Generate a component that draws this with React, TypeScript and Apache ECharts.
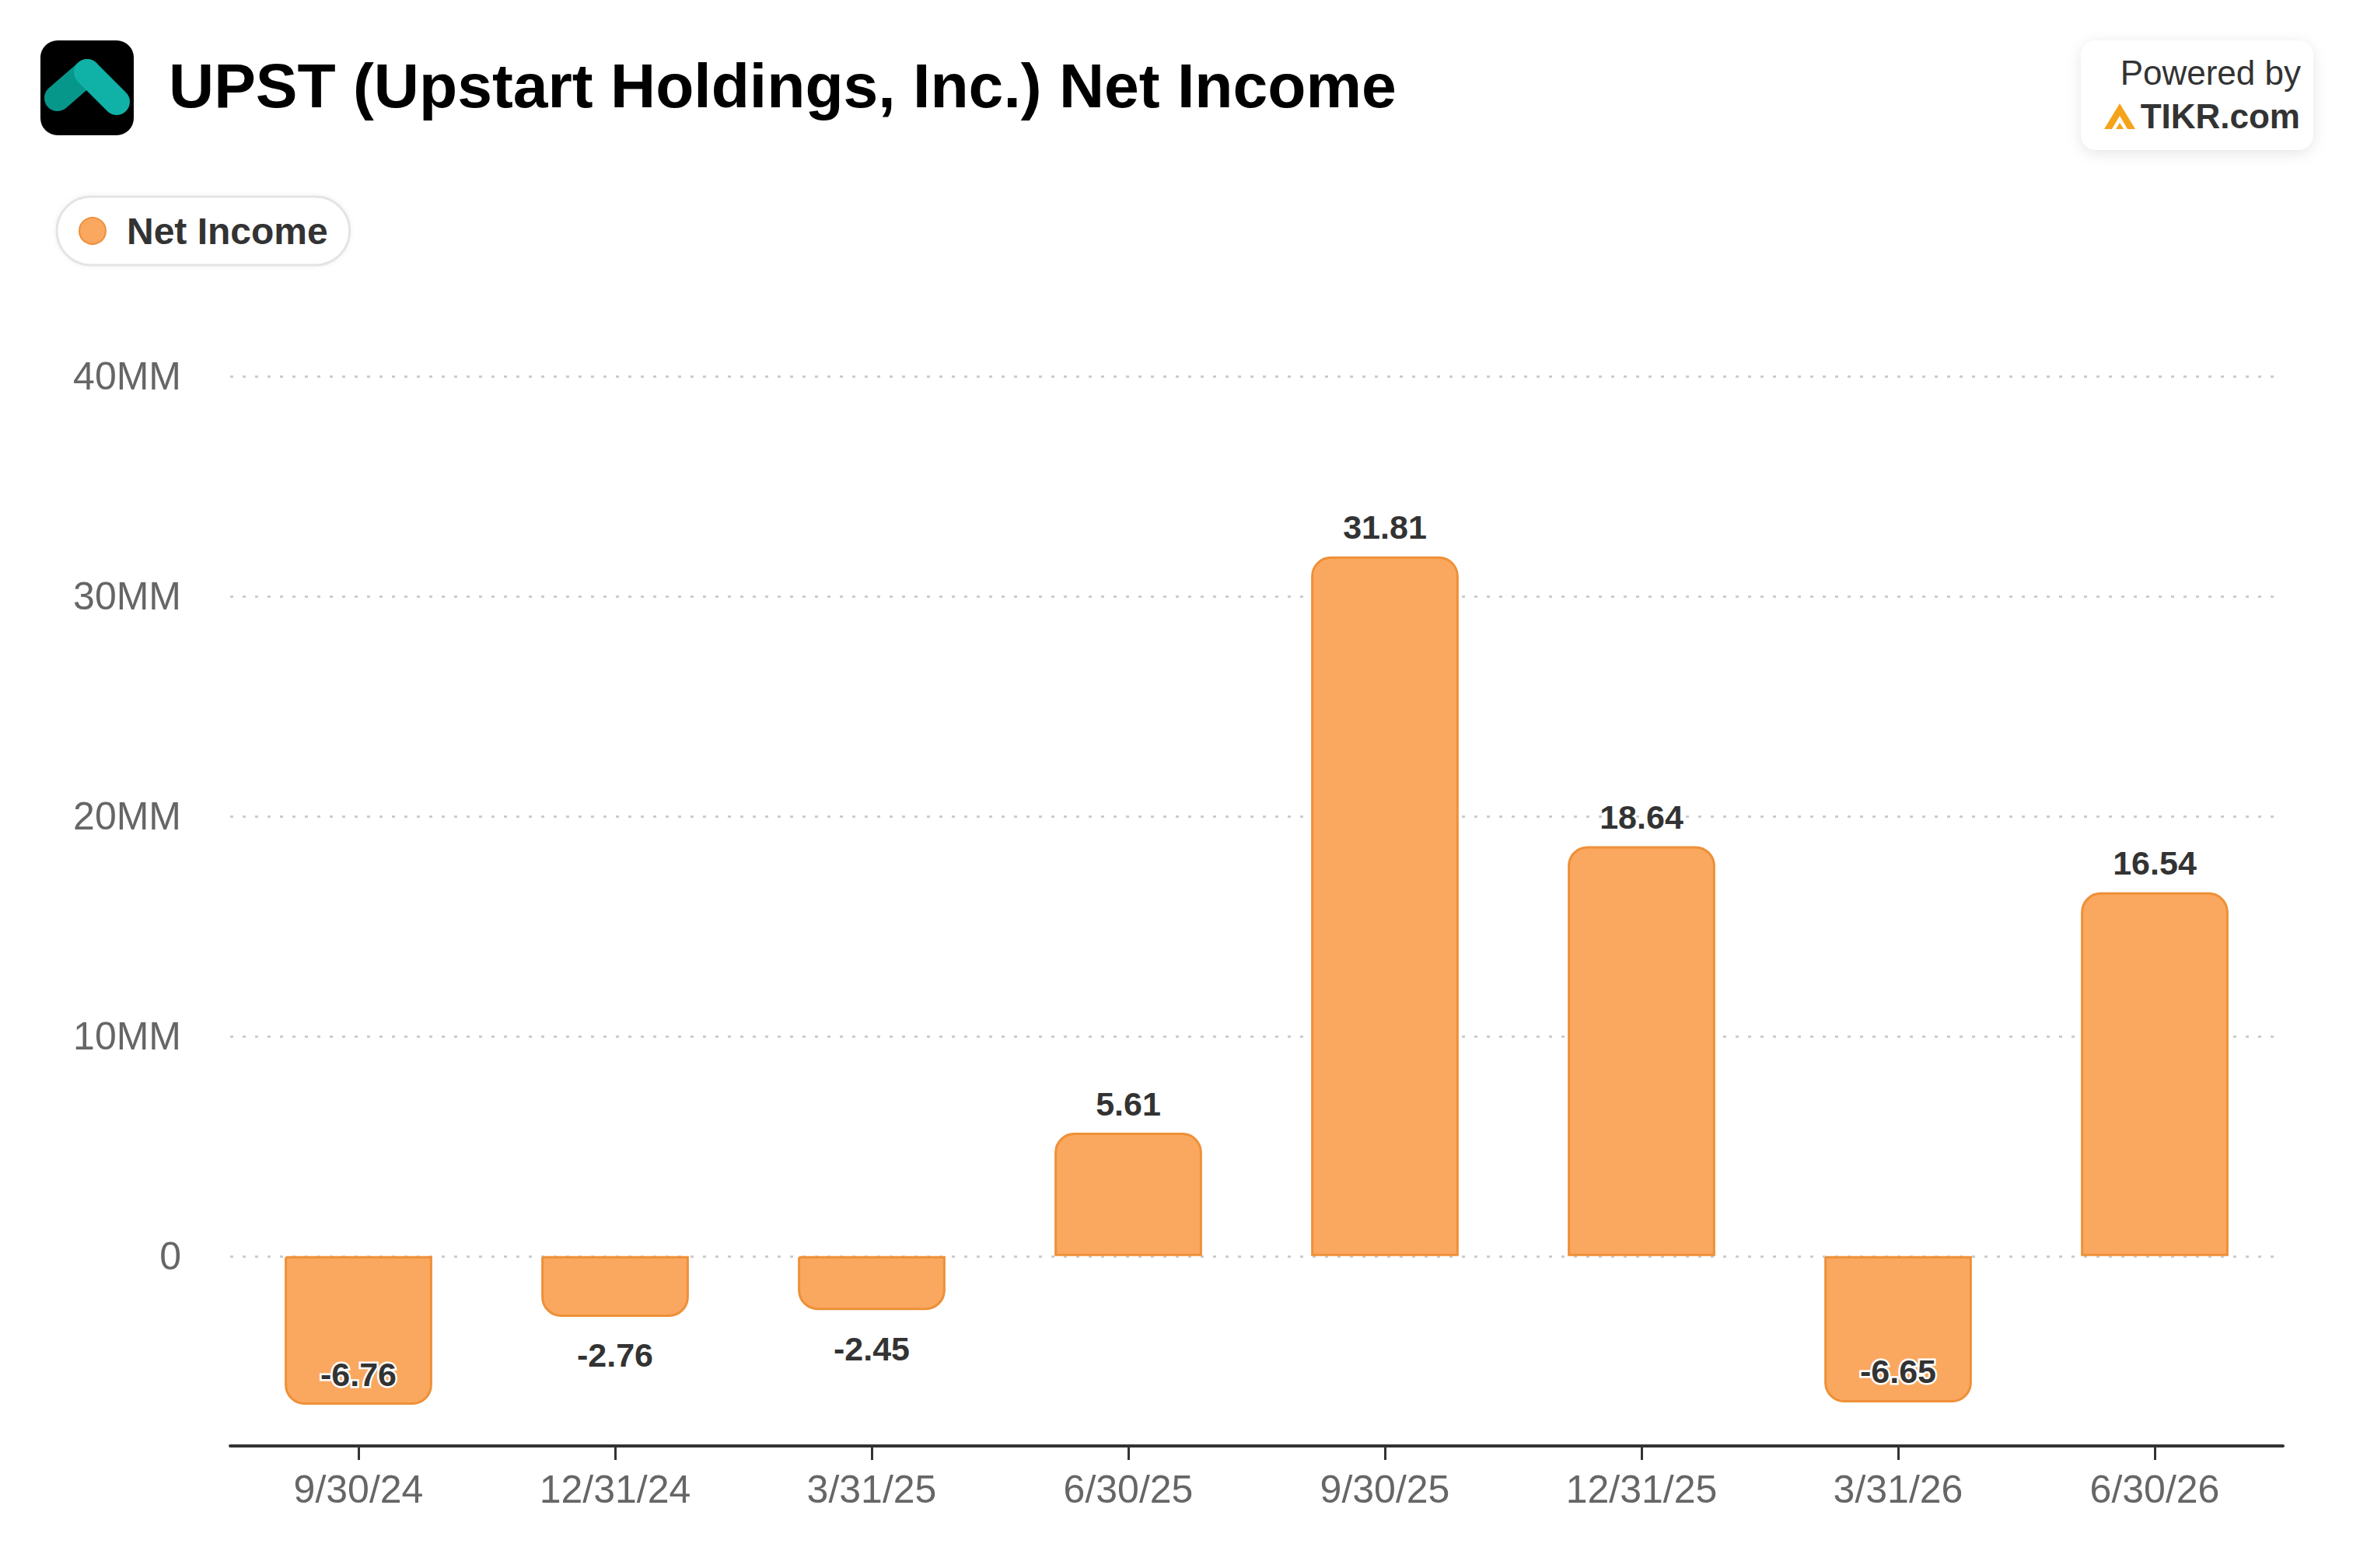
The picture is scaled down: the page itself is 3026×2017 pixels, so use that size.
import React, { useEffect, useRef } from 'react';
import * as echarts from 'echarts';

const categories = ['9/30/24', '12/31/24', '3/31/25', '6/30/25', '9/30/25', '12/31/25', '3/31/26', '6/30/26'];
const netIncomeMM = [-6.76, -2.76, -2.45, 5.61, 31.81, 18.64, -6.65, 16.54];
const yMin = -8.63;
const yMax = 40;
const seriesName = 'Net Income';
const titleText = 'UPST (Upstart Holdings, Inc.) Net Income';

const FONT = '"Liberation Sans", Arial, Helvetica, sans-serif';
const BAR_FILL = '#FAA860';
const BAR_BORDER = '#EE9038';

function yLabel(v: number): string {
  if (Math.abs(v) < 1e-9) return '0';
  if (Math.abs(v % 10) < 1e-9) return `${v}MM`;
  return '';
}

export default function App() {
  const ref = useRef<HTMLDivElement>(null);

  useEffect(() => {
    document.body.style.margin = '0';
    if (!ref.current) return;
    const chart = echarts.init(ref.current, null, { renderer: 'svg' });
    const R = 24;
    chart.setOption({
      animation: false,
      backgroundColor: '#ffffff',
      grid: { left: 296, right: 90, top: 484, bottom: 157, containLabel: false },
      legend: {
        show: true,
        left: 73,
        top: 253,
        icon: 'circle',
        itemWidth: 34,
        itemHeight: 34,
        itemGap: 30,
        padding: [20, 28, 20, 28],
        borderColor: '#e4e4e4',
        borderWidth: 3,
        borderRadius: 44,
        backgroundColor: '#ffffff',
        shadowColor: 'rgba(0,0,0,0.06)',
        shadowBlur: 6,
        textStyle: { fontFamily: FONT, fontSize: 48, fontWeight: 'bold', color: '#333333', padding: [0, 0, 0, 22] },
        data: [seriesName],
      },
      xAxis: {
        type: 'category',
        data: categories,
        boundaryGap: true,
        axisLine: { onZero: false, lineStyle: { color: '#333333', width: 4 } },
        axisTick: { show: true, alignWithLabel: true, length: 18, lineStyle: { color: '#333333', width: 3 } },
        axisLabel: { fontFamily: FONT, fontSize: 50, color: '#666666', margin: 31 },
        splitLine: { show: false },
      },
      yAxis: {
        type: 'value',
        min: yMin,
        max: yMax,
        splitNumber: 5,
        axisLine: { show: false },
        axisTick: { show: false },
        axisLabel: { fontFamily: FONT, fontSize: 50, color: '#666666', margin: 63, formatter: yLabel },
        splitLine: { show: true, lineStyle: { color: '#cccccc', width: 3, type: [4, 12] } },
      },
      series: [
        {
          name: seriesName,
          type: 'bar',
          barWidth: '57.5%',
          itemStyle: { color: BAR_FILL, borderColor: BAR_BORDER, borderWidth: 3 },
          label: {
            show: true,
            fontFamily: FONT,
            fontSize: 43,
            fontWeight: 'bold',
            color: '#333333',
            textBorderColor: '#ffffff',
            textBorderWidth: 5,
            formatter: (p: any) => Number(p.value).toFixed(2),
          },
          data: netIncomeMM.map((v) => ({
            value: v,
            itemStyle: { borderRadius: v >= 0 ? [R, R, 0, 0] : [0, 0, R, R] },
            label:
              v >= 0
                ? { position: 'top', distance: 16 }
                : v < -5
                ? { position: 'insideBottom', distance: 18 }
                : { position: 'bottom', distance: 28 },
          })),
        },
      ],
      graphic: [
        {
          type: 'group',
          children: [
            { type: 'rect', shape: { x: 52, y: 52, width: 120, height: 122, r: 22 }, style: { fill: '#000000' } },
            {
              type: 'line',
              shape: { x1: 74, y1: 126, x2: 112, y2: 93 },
              style: { stroke: '#07968a', lineWidth: 34, lineCap: 'round' },
            },
            {
              type: 'line',
              shape: { x1: 112, y1: 93, x2: 150, y2: 131 },
              style: { stroke: '#10b1a7', lineWidth: 34, lineCap: 'round' },
            },
          ],
        },
        {
          type: 'text',
          x: 217,
          y: 110,
          style: {
            text: titleText,
            fontFamily: FONT,
            fontSize: 80.5,
            fontWeight: 'bold',
            fill: '#000000',
            textAlign: 'left',
            textVerticalAlign: 'middle',
          },
        },
        {
          type: 'rect',
          shape: { x: 2676, y: 52, width: 299, height: 141, r: 20 },
          style: { fill: '#ffffff', shadowColor: 'rgba(0,0,0,0.10)', shadowBlur: 18, shadowOffsetY: 4 },
        },
        {
          type: 'text',
          x: 2959,
          y: 93,
          style: {
            text: 'Powered by',
            fontFamily: FONT,
            fontSize: 44,
            fill: '#333333',
            textAlign: 'right',
            textVerticalAlign: 'middle',
          },
        },
        {
          type: 'text',
          x: 2958,
          y: 149,
          style: {
            text: 'TIKR.com',
            fontFamily: FONT,
            fontSize: 44,
            fontWeight: 'bold',
            fill: '#333333',
            textAlign: 'right',
            textVerticalAlign: 'middle',
          },
        },
        {
          type: 'polygon',
          shape: { points: [[2706, 166], [2726, 133], [2746, 166]] },
          style: { fill: '#F5A31A' },
        },
        {
          type: 'polygon',
          shape: { points: [[2716, 166], [2726, 149], [2736, 166]] },
          style: { fill: '#ffffff' },
        },
        {
          type: 'polygon',
          shape: { points: [[2721, 166], [2726, 158], [2731, 166]] },
          style: { fill: '#F5A31A' },
        },
      ],
    });
    return () => chart.dispose();
  }, []);

  return <div ref={ref} style={{ width: 3026, height: 2017 }} />;
}
